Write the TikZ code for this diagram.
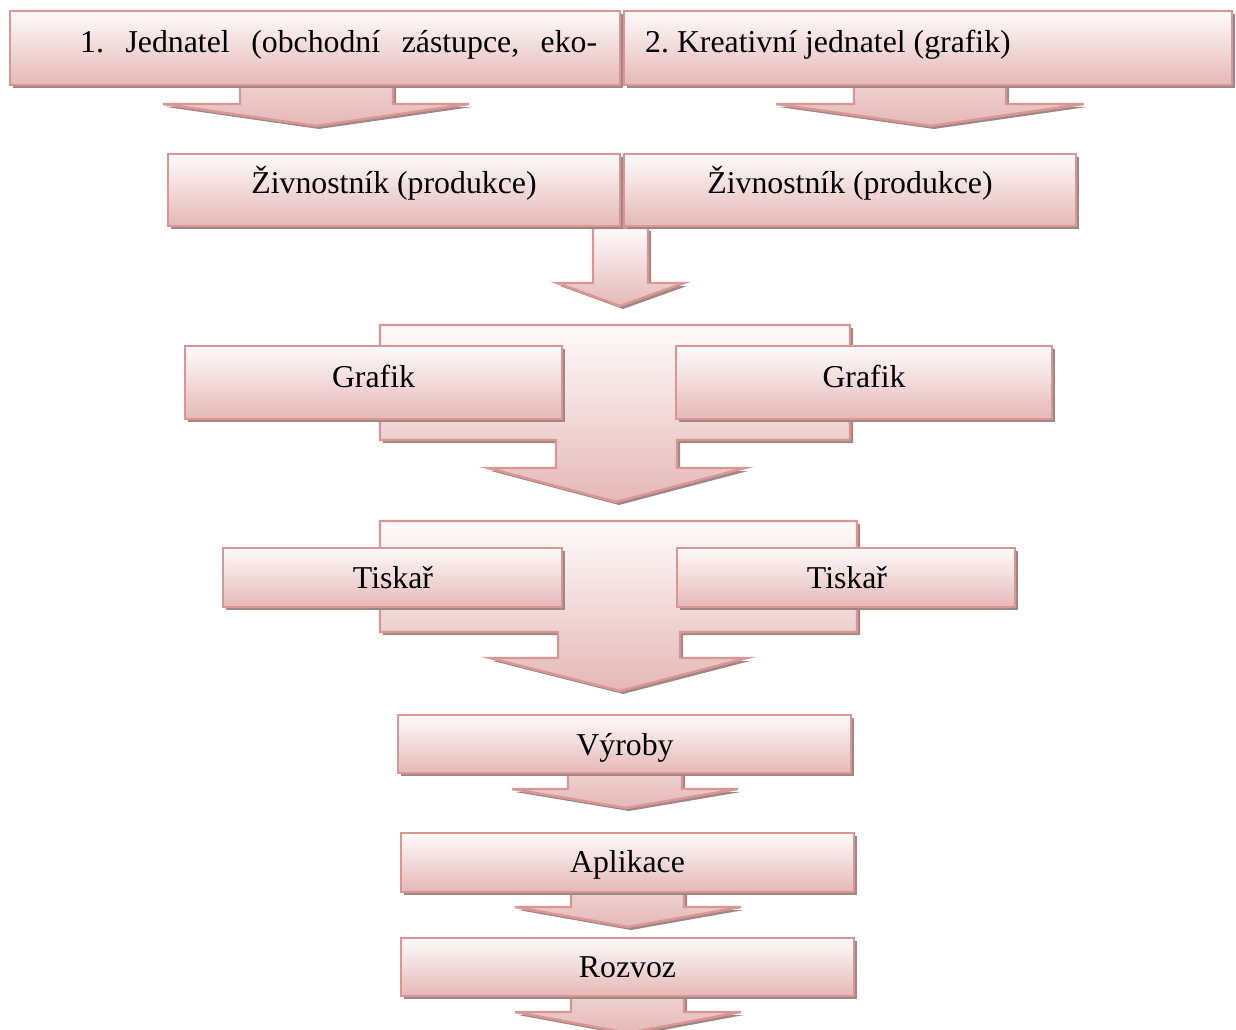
\documentclass[tikz,border=0pt]{standalone}
\usepackage{fontspec}
\setmainfont{Liberation Serif}
\usetikzlibrary{shadows}

\definecolor{rim}{RGB}{217,150,148}
\definecolor{gtop}{RGB}{254,251,251}
\definecolor{gmid}{RGB}{244,225,225}
\definecolor{gbot}{RGB}{229,184,183}
\definecolor{shadowtone}{RGB}{160,135,135}

\tikzset{
  softshadow/.style={drop shadow={shadow xshift=3pt, shadow yshift=-3pt, fill=shadowtone, opacity=1}},
  panel/.style={rectangle, inner sep=0pt, draw=rim, line width=2.4pt,
    top color=gtop, middle color=gmid, bottom color=gbot, softshadow},
  flow/.style={draw=rim, line width=2.4pt, line join=miter,
    top color=gtop, middle color=gmid, bottom color=gbot, softshadow},
  caption/.style={anchor=base, inner sep=0pt, font=\fontsize{31.8}{38}\selectfont},
}
\frenchspacing

\begin{document}
\begin{tikzpicture}[x=1pt, y=-1pt]
\useasboundingbox (0,0) rectangle (1236,1030);

% block arrows (behind the boxes)
\path[flow] (240,12) -- (240,104) -- (163,104) -- (316,126) -- (469,104) -- (393,104) -- (393,12) -- cycle;
\path[flow] (854,12) -- (854,104) -- (776,104) -- (931,126) -- (1084,104) -- (1006,104) -- (1006,12) -- cycle;
\path[flow] (593,228) -- (593,283) -- (557,283) -- (620,306) -- (684,283) -- (648,283) -- (648,228) -- cycle;
\path[flow] (380,325) -- (380,440) -- (556,440) -- (556,468) -- (488,468) -- (616,502) -- (745,468)
  -- (677,468) -- (677,440) -- (850,440) -- (850,325) -- cycle;
\path[flow] (380,521) -- (380,632) -- (558,632) -- (558,658) -- (490,658) -- (620,691) -- (747,658)
  -- (680,658) -- (680,632) -- (857,632) -- (857,521) -- cycle;
\path[flow] (568,716) -- (568,789) -- (512,789) -- (626,808) -- (738,789) -- (682,789) -- (682,716) -- cycle;
\path[flow] (571,834) -- (571,907) -- (515,907) -- (628,927) -- (741,907) -- (684,907) -- (684,834) -- cycle;
\path[flow] (571,939) -- (571,1012) -- (515,1012) -- (628,1033) -- (741,1012) -- (684,1012) -- (684,939) -- cycle;

% boxes
\node[panel, minimum width=610pt, minimum height=74pt] (j1) at (315,48) {};
\node[panel, minimum width=608pt, minimum height=74pt] (j2) at (928,48) {};
\node[panel, minimum width=452pt, minimum height=72pt] (z1) at (394,190) {};
\node[panel, minimum width=452pt, minimum height=72pt] (z2) at (850,190) {};
\node[panel, minimum width=377pt, minimum height=73pt] (g1) at (373.5,382.5) {};
\node[panel, minimum width=376pt, minimum height=73pt] (g2) at (864,382.5) {};
\node[panel, minimum width=339pt, minimum height=59pt] (t1) at (392.5,577.5) {};
\node[panel, minimum width=338pt, minimum height=59pt] (t2) at (846,577.5) {};
\node[panel, minimum width=453pt, minimum height=58pt] (v) at (624.5,744) {};
\node[panel, minimum width=453pt, minimum height=59pt] (a) at (627.5,862.5) {};
\node[panel, minimum width=453pt, minimum height=58pt] (r) at (627.5,967) {};

% texts
\node[caption, anchor=base west] (j1t) at (80,53)
  {\hbox to 517pt{1.\hfil Jednatel\hfil (obchodní\hfil zástupce,\hfil eko-}};
\node[caption, anchor=base west] (j2t) at (645,53) {2. Kreativní jednatel (grafik)};
\node[caption] (z1t) at (394,193) {Živnostník (produkce)};
\node[caption] (z2t) at (850,193) {Živnostník (produkce)};
\node[caption] (g1t) at (373.5,387) {Grafik};
\node[caption] (g2t) at (864,387) {Grafik};
\node[caption] (t1t) at (393,588) {Tiskař};
\node[caption] (t2t) at (847,588) {Tiskař};
\node[caption] (vt) at (625,755) {Výroby};
\node[caption] (at) at (627.5,872) {Aplikace};
\node[caption] (rt) at (627.5,977) {Rozvoz};
\end{tikzpicture}
\end{document}
